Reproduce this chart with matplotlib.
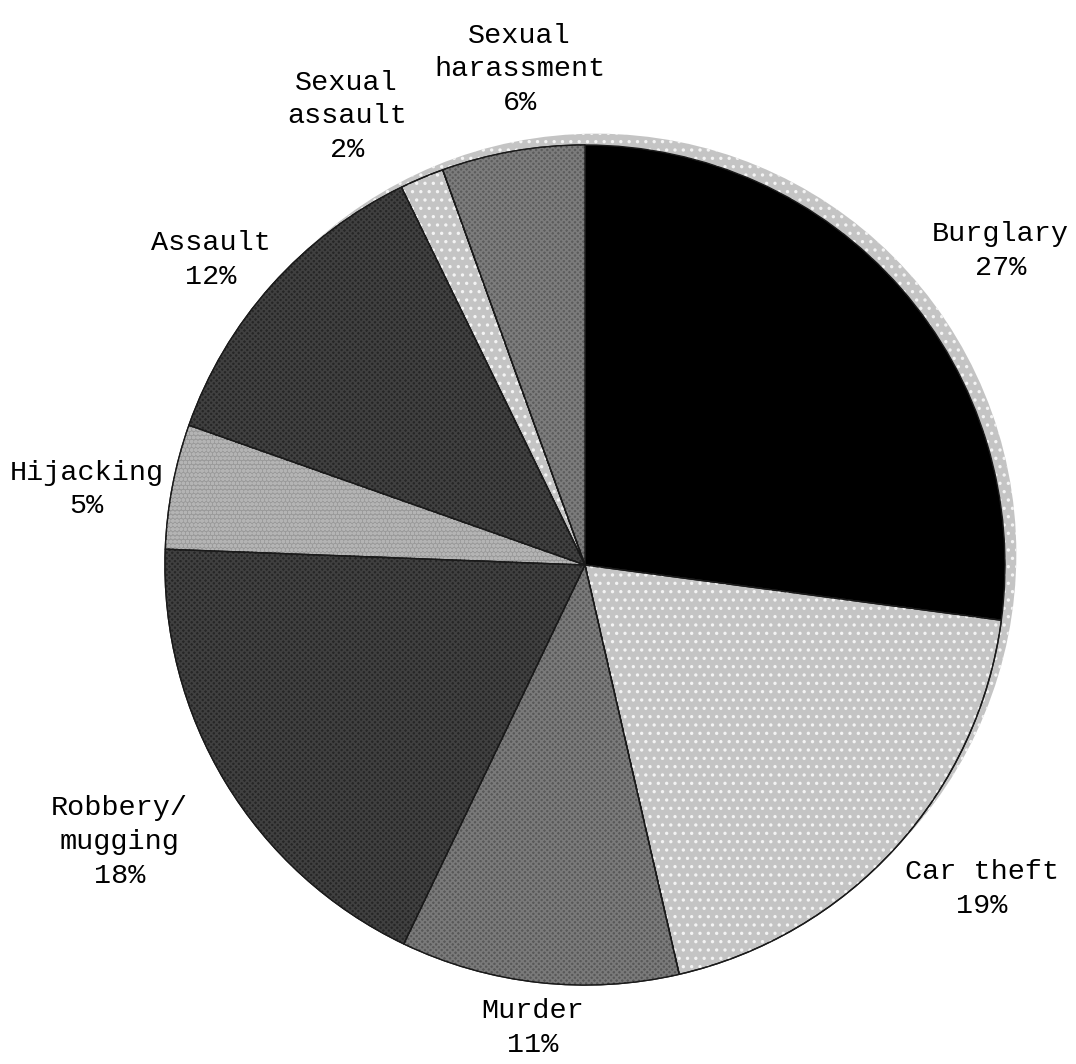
import numpy as np
import matplotlib
matplotlib.use("Agg")
import matplotlib.pyplot as plt
from matplotlib.patches import Circle, Wedge

# slice data, clockwise from 12 o'clock
categories = ["Burglary", "Car theft", "Murder", "Robbery/\nmugging", "Hijacking",
              "Assault", "Sexual\nassault", "Sexual\nharassment"]
shares = [27.1, 19.3, 10.7, 18.5, 4.8, 12.4, 1.7, 5.5]
pct_labels = ["27%", "19%", "11%", "18%", "5%", "12%", "2%", "6%"]

# styling
fills = ["#000000", "#c4c4c4", "#585858", "#262626", "#9a9a9a", "#262626", "#c4c4c4", "#5c5c5c"]
hatches = [None, "..", "xxxxxx", "xxxxxx", "oooo", "xxxxxx", "..", "xxxxxx"]
hatch_cols = [None, "#f4f4f4", "#7a7a7a", "#404040", "#b4b4b4", "#404040", "#f4f4f4", "#7c7c7c"]
# label placement: distance (in radii) and angle shift from slice middle (deg)
label_r = [1.24, 1.22, 1.11, 1.29, 1.20, 1.15, 1.21, 1.19]
label_shift = [-4.1, 3.1, -0.2, -0.4, 2.2, 2.6, 5.1, -2.4]

W, H = 1076, 1064
cx, cy, R = 585, H - 565, 420

plt.rcParams["hatch.linewidth"] = 1.2

fig = plt.figure(figsize=(W / 100, H / 100), dpi=100)
ax = fig.add_axes([0, 0, 1, 1])

# light grey rim peeking out top-right
off = 0.027 * R
ax.add_patch(Circle((cx + off, cy + off), R, facecolor="#c4c4c4", edgecolor="none", zorder=0))
ax.add_patch(Circle((cx + off, cy + off), R, fill=False, hatch="..",
                    edgecolor="#f4f4f4", lw=0, zorder=0.5))

wedges, _ = ax.pie(shares, colors=fills, startangle=90, counterclock=False,
                   center=(cx, cy), radius=R,
                   wedgeprops=dict(edgecolor="#1a1a1a", linewidth=1.0))

for w, hp, hc in zip(wedges, hatches, hatch_cols):
    if hp is None:
        continue
    ax.add_patch(Wedge(w.center, w.r, w.theta1, w.theta2, fill=False, hatch=hp,
                       edgecolor=hc, lw=0, zorder=w.get_zorder() + 0.1))
    # redraw the outline on top of the texture
    ax.add_patch(Wedge(w.center, w.r, w.theta1, w.theta2, fill=False,
                       edgecolor="#1a1a1a", lw=1.0, zorder=w.get_zorder() + 0.2))

for w, name, pct, rf, sh in zip(wedges, categories, pct_labels, label_r, label_shift):
    mid = np.deg2rad((w.theta1 + w.theta2) / 2 + sh)
    x = cx + rf * R * np.cos(mid)
    y = cy + rf * R * np.sin(mid)
    ax.text(x, y, name + "\n" + pct, ha="center", va="center", multialignment="center",
            fontsize=20.5, family="Liberation Mono", linespacing=1.38, color="black")

ax.set_xlim(0, W)
ax.set_ylim(0, H)
ax.set_aspect("equal")
ax.axis("off")

fig.savefig("out.png", dpi=100, facecolor="white")
